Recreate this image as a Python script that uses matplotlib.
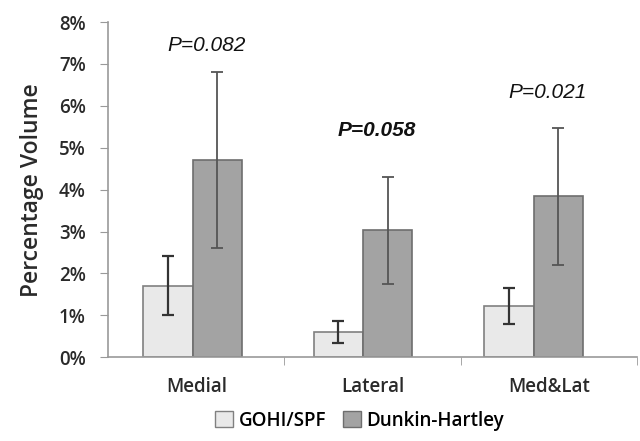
import matplotlib
matplotlib.use("Agg")
import matplotlib.pyplot as plt
import numpy as np
from matplotlib.patches import Patch

categories = ["Medial", "Lateral", "Med&Lat"]
gohi_mean = [1.71, 0.60, 1.22]
gohi_err = [0.70, 0.27, 0.43]
dh_mean = [4.70, 3.03, 3.84]
dh_err = [2.10, 1.28, 1.63]
p_labels = ["P=0.082", "P=0.058", "P=0.021"]
p_heights = [7.45, 5.42, 6.32]
yticks = [0, 1, 2, 3, 4, 5, 6, 7, 8]

font = "Open Sans"
fw = "semibold"
tc = "#2a2a2a"
fig = plt.figure(figsize=(6.4, 4.41), dpi=100)
ax = fig.add_axes([0.169, 0.190, 0.826, 0.760])

x = np.arange(len(categories))
pos = x * 0.967 - 0.02
w = 0.28

ax.bar(pos - w / 2, gohi_mean, w, color="#e9e9e9", edgecolor="#808080", linewidth=1.2, zorder=2)
ax.bar(pos + w / 2, dh_mean, w, color="#a3a3a3", edgecolor="#6e6e6e", linewidth=1.2, zorder=2)
ax.errorbar(pos - w / 2, gohi_mean, yerr=gohi_err, fmt="none", ecolor="#333333",
            elinewidth=1.6, capsize=4, capthick=1.6, zorder=3)
ax.errorbar(pos + w / 2, dh_mean, yerr=dh_err, fmt="none", ecolor="#555555",
            elinewidth=1.3, capsize=4, capthick=1.3, zorder=3)

for i, (xi, lab, h) in enumerate(zip(pos, p_labels, p_heights)):
    ax.text(xi + 0.08, h, lab, ha="center", va="center", fontsize=15,
            style="italic", family="Liberation Sans", color="#111111",
            weight="bold" if i == 1 else "normal")

ax.set_xlim(-0.5, 2.5)
ax.set_ylim(0, 8)
ax.set_yticks(yticks)
ax.set_yticklabels([f"{t}%" for t in yticks], family=font, fontsize=13.5, color=tc, weight=fw)
ax.set_xticks(x)
ax.set_xticklabels(categories, family=font, fontsize=13.5, color=tc, weight=fw)
ax.set_xticks([0.5, 1.5, 2.5], minor=True)
ax.tick_params(axis="x", which="major", length=0, pad=14)
ax.tick_params(axis="x", which="minor", length=6, color="#999999", direction="out")
ax.tick_params(axis="y", length=6, color="#999999", direction="out", pad=10)

for s in ["top", "right"]:
    ax.spines[s].set_visible(False)
for s in ["left", "bottom"]:
    ax.spines[s].set_color("#999999")
    ax.spines[s].set_linewidth(1.2)

ax.set_ylabel("Percentage Volume", family=font, fontsize=16.5, color=tc, weight=fw, labelpad=11)

handles = [Patch(facecolor="#e9e9e9", edgecolor="#808080", label="GOHI/SPF"),
           Patch(facecolor="#a3a3a3", edgecolor="#6e6e6e", label="Dunkin-Hartley")]
fig.legend(handles=handles, loc="center", bbox_to_anchor=(0.562, 0.046), ncol=2,
           frameon=False, prop={"family": font, "size": 13.5, "weight": fw}, handlelength=0.95,
           handleheight=0.95, handletextpad=0.3, columnspacing=0.9)

fig.savefig("out.png", dpi=100)
